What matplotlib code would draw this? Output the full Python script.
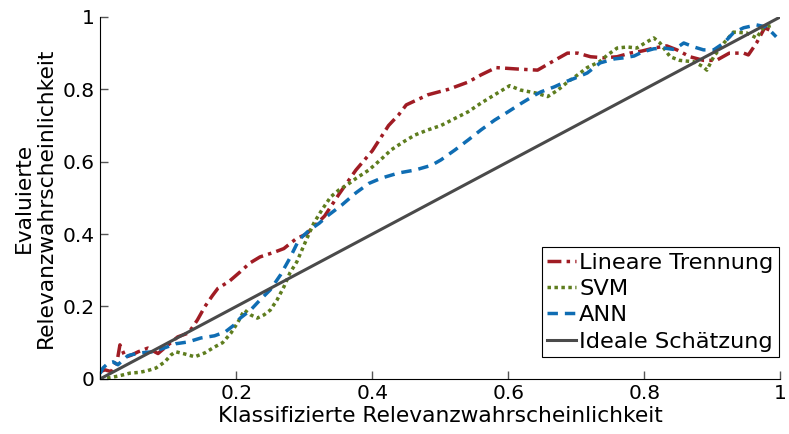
import matplotlib
matplotlib.use("Agg")
import matplotlib.pyplot as plt

# -----------------------------
# Data
# -----------------------------
lin_x = [0.0, 0.007, 0.016, 0.025, 0.029, 0.037, 0.045, 0.056, 0.07, 0.085, 0.10, 0.114,
         0.13, 0.143, 0.154, 0.165, 0.173, 0.19, 0.206, 0.22, 0.235, 0.256, 0.27, 0.288,
         0.303, 0.33, 0.351, 0.376, 0.40, 0.424, 0.439, 0.45, 0.482, 0.512, 0.541, 0.56,
         0.582, 0.614, 0.643, 0.668, 0.687, 0.702, 0.721, 0.741, 0.76, 0.779, 0.797, 0.814,
         0.833, 0.848, 0.867, 0.887, 0.906, 0.925, 0.946, 0.953, 0.965, 0.977, 0.984]
lin_y = [0.02, 0.025, 0.02, 0.05, 0.094, 0.06, 0.065, 0.075, 0.085, 0.07, 0.094, 0.116,
         0.127, 0.163, 0.20, 0.23, 0.25, 0.27, 0.296, 0.32, 0.337, 0.35, 0.36, 0.387,
         0.40, 0.45, 0.51, 0.577, 0.63, 0.70, 0.73, 0.757, 0.785, 0.80, 0.82, 0.84,
         0.86, 0.856, 0.853, 0.88, 0.90, 0.90, 0.89, 0.887, 0.89, 0.90, 0.906, 0.914,
         0.92, 0.909, 0.89, 0.88, 0.88, 0.90, 0.90, 0.895, 0.928, 0.97, 0.964]

svm_x = [0.0, 0.016, 0.027, 0.044, 0.058, 0.07, 0.082, 0.095, 0.104, 0.111, 0.124, 0.139,
         0.154, 0.168, 0.18, 0.192, 0.202, 0.212, 0.221, 0.231, 0.241, 0.25, 0.26, 0.27,
         0.279, 0.289, 0.303, 0.314, 0.326, 0.339, 0.351, 0.363, 0.377, 0.395, 0.412,
         0.428, 0.446, 0.463, 0.482, 0.501, 0.522, 0.541, 0.56, 0.58, 0.602, 0.618, 0.64,
         0.658, 0.673, 0.687, 0.702, 0.716, 0.734, 0.746, 0.76, 0.775, 0.789, 0.801,
         0.814, 0.823, 0.838, 0.852, 0.873, 0.887, 0.892, 0.902, 0.917, 0.931, 0.95,
         0.965, 0.975, 0.99]
svm_y = [0.0, 0.004, 0.008, 0.016, 0.018, 0.023, 0.03, 0.047, 0.066, 0.075, 0.069, 0.061,
         0.072, 0.088, 0.10, 0.126, 0.155, 0.19, 0.177, 0.168, 0.177, 0.19, 0.218, 0.254,
         0.293, 0.323, 0.384, 0.43, 0.467, 0.503, 0.522, 0.536, 0.555, 0.577, 0.605,
         0.633, 0.655, 0.674, 0.688, 0.70, 0.72, 0.738, 0.762, 0.785, 0.81, 0.798, 0.79,
         0.78, 0.798, 0.82, 0.84, 0.86, 0.876, 0.895, 0.914, 0.917, 0.914, 0.928,
         0.942, 0.928, 0.89, 0.88, 0.876, 0.862, 0.853, 0.89, 0.928, 0.958, 0.956,
         0.942, 0.97, 0.978]

ann_x = [0.0, 0.004, 0.012, 0.019, 0.026, 0.04, 0.044, 0.06, 0.078, 0.095, 0.111, 0.129,
         0.148, 0.168, 0.184, 0.197, 0.206, 0.221, 0.235, 0.25, 0.265, 0.279, 0.292,
         0.307, 0.322, 0.336, 0.355, 0.376, 0.395, 0.414, 0.439, 0.463, 0.487, 0.501,
         0.522, 0.541, 0.56, 0.58, 0.599, 0.618, 0.64, 0.648, 0.668, 0.683, 0.697, 0.716,
         0.735, 0.756, 0.77, 0.785, 0.797, 0.814, 0.829, 0.844, 0.858, 0.873, 0.887,
         0.902, 0.917, 0.931, 0.946, 0.965, 0.98, 0.994]
ann_y = [0.015, 0.03, 0.044, 0.047, 0.039, 0.063, 0.066, 0.072, 0.075, 0.086, 0.097, 0.102,
         0.113, 0.119, 0.13, 0.149, 0.168, 0.19, 0.218, 0.246, 0.287, 0.334, 0.384,
         0.41, 0.43, 0.453, 0.48, 0.514, 0.54, 0.555, 0.569, 0.577, 0.59, 0.605,
         0.633, 0.66, 0.688, 0.715, 0.737, 0.76, 0.785, 0.793, 0.807, 0.82, 0.83, 0.845,
         0.873, 0.884, 0.887, 0.892, 0.903, 0.912, 0.914, 0.91, 0.928, 0.917, 0.909,
         0.909, 0.928, 0.956, 0.97, 0.978, 0.972, 0.945]

ideal_x = [0, 1]
ideal_y = [0, 1]

labels = ["Lineare Trennung", "SVM", "ANN", "Ideale Schätzung"]
ticks = [0, 0.2, 0.4, 0.6, 0.8, 1]
xtick_labels = ["", "0.2", "0.4", "0.6", "0.8", "1"]
ytick_labels = ["0", "0.2", "0.4", "0.6", "0.8", "1"]

# -----------------------------
# Plot
# -----------------------------
plt.rcParams["font.family"] = "DejaVu Sans"

fig = plt.figure(figsize=(7.89, 4.34), dpi=100)
ax = fig.add_axes([0.127, 0.127, 0.862, 0.834])

ax.plot(lin_x, lin_y, color="#a01c24", lw=2.5, linestyle=(0, (4, 1.5, 1, 1.5)), label=labels[0])
ax.plot(svm_x, svm_y, color="#5e7d1e", lw=2.5, linestyle=(0, (1, 1)), label=labels[1])
ax.plot(ann_x, ann_y, color="#0f6db3", lw=2.5, linestyle=(0, (3, 2)), label=labels[2])
ax.plot(ideal_x, ideal_y, color="#4a4a4a", lw=2.2, label=labels[3])

ax.set_xlim(0, 1)
ax.set_ylim(0, 1)
ax.set_xticks(ticks)
ax.set_xticklabels(xtick_labels)
ax.set_yticks(ticks)
ax.set_yticklabels(ytick_labels)
ax.tick_params(direction="in", length=6, width=1, labelsize=14.5, colors="#555555",
               labelcolor="black", pad=4)

ax.spines["top"].set_visible(False)
ax.spines["right"].set_visible(False)

ax.set_xlabel("Klassifizierte Relevanzwahrscheinlichkeit", fontsize=15.7, labelpad=2)
ax.set_ylabel("Evaluierte\nRelevanzwahrscheinlichkeit", fontsize=15.7, labelpad=5,
              linespacing=1.1)

leg = ax.legend(loc="lower right", bbox_to_anchor=(0.998, 0.06), fontsize=16.2,
                handlelength=1.3, handletextpad=0.12, borderpad=0.25,
                labelspacing=0.28, borderaxespad=0, fancybox=False, framealpha=1)
leg.get_frame().set_edgecolor("black")
leg.get_frame().set_linewidth(0.8)

fig.savefig("out.png", dpi=100)
